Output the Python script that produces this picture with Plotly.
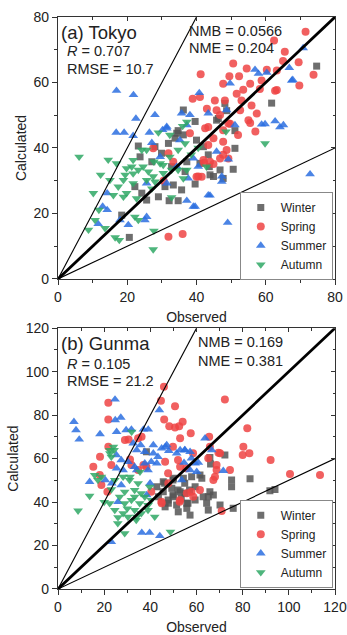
import plotly.graph_objects as go

# ---------------- data: (a) Tokyo ----------------
tokyo_winter_x = [74.7, 61.7, 48.7, 48.2, 46.3, 45.8, 39.6, 36.2, 51.1, 51.1, 23.2, 23.7, 34.3, 34.7, 36.2, 40.0, 42.0, 43.4, 43.7, 43.9, 46.8, 47.7, 50.6, 44.9, 37.2, 36.7, 33.3, 35.7, 39.6, 30.9, 29.0, 24.2, 34.7, 32.1, 25.6, 22.2, 18.4, 20.6, 32.8, 29.9, 28.0, 31.9, 33.8, 41.0, 27.1]
tokyo_winter_y = [65.0, 53.7, 51.4, 53.6, 49.0, 48.5, 48.1, 51.6, 45.3, 39.9, 40.6, 37.3, 44.5, 45.3, 44.0, 42.4, 40.4, 37.9, 34.3, 31.8, 33.3, 30.7, 33.5, 31.3, 35.8, 32.8, 28.7, 27.2, 29.0, 28.2, 25.1, 26.2, 23.9, 23.9, 24.1, 28.2, 19.5, 12.7, 34.3, 38.4, 40.4, 41.4, 43.0, 35.3, 35.8]

tokyo_spring_x = [71.5, 62.4, 65.5, 73.8, 69.5, 65.0, 69.7, 50.6, 41.2, 60.3, 63.2, 54.5, 47.7, 49.5, 52.3, 55.5, 58.8, 58.3, 62.7, 53.5, 51.6, 38.9, 41.0, 45.3, 48.2, 53.0, 55.9, 57.4, 52.6, 43.0, 45.8, 55.5, 49.7, 43.4, 47.7, 55.0, 63.2, 38.1, 42.5, 44.9, 47.7, 48.7, 42.0, 43.9, 40.0, 41.5, 27.5, 31.9, 33.3, 46.8, 49.2, 43.4, 46.8, 40.5, 44.9, 42.2, 47.7, 49.2, 31.9, 36.0, 30.5, 52.0, 57.0]
tokyo_spring_y = [75.5, 72.8, 69.4, 62.4, 66.2, 66.6, 59.1, 65.8, 62.5, 63.9, 63.7, 64.3, 59.6, 61.9, 61.9, 59.6, 60.6, 58.0, 57.5, 57.8, 56.6, 55.0, 55.6, 54.5, 54.5, 54.5, 53.0, 50.5, 51.5, 52.0, 51.5, 47.6, 47.4, 46.4, 45.4, 48.5, 57.7, 44.5, 46.0, 43.0, 41.9, 39.4, 36.3, 35.8, 31.2, 31.2, 39.9, 38.4, 35.8, 50.1, 47.5, 40.9, 36.8, 31.3, 35.1, 35.5, 37.9, 36.8, 12.9, 13.7, 30.0, 44.0, 45.0]

tokyo_summer_x = [70.8, 67.5, 56.9, 57.9, 66.8, 40.8, 58.8, 62.7, 65.1, 64.1, 16.9, 21.8, 22.5, 28.0, 16.8, 19.1, 21.7, 38.1, 43.4, 48.7, 49.7, 60.3, 67.8, 59.8, 31.4, 30.2, 27.1, 72.8, 43.9, 39.1, 37.2, 49.0, 25.6, 25.1, 20.3, 17.9, 12.9, 14.2, 14.2, 11.6, 47.3, 47.3, 25.6, 31.4, 34.3, 39.1, 26.4, 31.4, 29.5, 35.7, 37.2, 45.8, 49.2, 51.1, 40.5, 37.6, 43.4, 39.6, 35.2]
tokyo_summer_y = [70.5, 60.6, 63.9, 62.7, 64.5, 56.8, 47.2, 48.2, 47.0, 46.4, 57.5, 56.2, 49.0, 50.1, 44.7, 44.7, 43.7, 50.1, 50.6, 51.6, 59.7, 63.0, 60.8, 47.3, 46.5, 45.5, 41.6, 32.0, 25.5, 22.1, 23.9, 17.2, 19.0, 18.0, 16.5, 18.0, 22.1, 21.1, 26.2, 16.8, 31.3, 29.7, 29.2, 29.2, 34.3, 36.8, 44.7, 46.0, 37.3, 50.6, 47.0, 38.9, 36.5, 47.0, 34.3, 30.7, 25.6, 22.1, 42.4]

tokyo_autumn_x = [6.1, 14.5, 10.2, 12.3, 11.8, 10.7, 8.8, 13.6, 16.5, 17.7, 27.5, 27.7, 23.2, 22.2, 21.7, 21.3, 19.4, 27.5, 30.4, 32.8, 37.2, 36.2, 29.5, 27.7, 24.6, 16.9, 15.0, 17.4, 16.0, 18.9, 29.0, 36.0, 32.3, 25.6, 42.9, 36.7, 24.2, 21.7, 19.8, 18.9, 23.2, 26.1, 30.4, 32.3, 34.7, 25.6, 21.7, 28.0, 19.8, 22.7, 27.1, 32.8, 34.7, 37.2, 38.5, 40.5, 59.8, 48.5]
tokyo_autumn_y = [37.3, 36.4, 26.2, 31.8, 21.1, 18.0, 15.0, 15.5, 12.7, 11.9, 9.0, 14.7, 18.0, 19.0, 32.2, 34.3, 31.8, 31.3, 32.3, 33.3, 33.3, 30.7, 35.3, 35.8, 34.3, 35.3, 30.2, 28.2, 25.6, 25.1, 44.7, 46.7, 44.0, 39.4, 34.3, 41.4, 39.4, 36.3, 33.8, 30.2, 33.3, 32.8, 34.8, 37.3, 39.4, 30.2, 29.2, 29.7, 26.2, 24.6, 27.6, 24.9, 33.3, 48.0, 38.0, 40.0, 41.4, 45.0]

# ---------------- data: (b) Gunma ----------------
gunma_winter_x = [45.6, 50.0, 54.3, 57.9, 61.5, 45.6, 49.3, 52.9, 50.0, 47.8, 51.4, 55.8, 59.4, 62.9, 65.8, 64.4, 70.2, 65.1, 55.8, 57.2, 52.1, 72.3, 65.8, 46.4, 55.0, 59.4, 42.8, 43.5, 66.1, 75.2, 75.2, 83.2, 91.8, 94.0, 75.9, 65.1, 67.3, 62.3, 38.3, 47.7, 49.8, 52.0, 53.4, 56.3, 46.2, 49.8, 54.9, 57.0]
gunma_winter_y = [49.3, 50.9, 50.9, 51.6, 52.4, 44.7, 46.3, 44.7, 42.4, 39.4, 38.6, 39.4, 40.9, 42.4, 44.7, 39.4, 38.6, 36.3, 37.1, 34.0, 35.5, 61.6, 60.5, 37.8, 44.0, 47.0, 47.0, 42.4, 57.5, 50.1, 47.0, 50.7, 45.2, 45.8, 37.1, 42.4, 43.2, 50.9, 63.1, 40.9, 43.2, 45.5, 41.7, 39.4, 48.6, 50.1, 48.6, 45.5]

gunma_spring_x = [45.9, 21.8, 44.6, 72.3, 50.7, 21.8, 46.0, 48.2, 50.7, 54.0, 52.5, 52.9, 57.5, 65.5, 82.0, 80.3, 80.0, 82.9, 92.1, 70.2, 65.8, 65.1, 29.0, 36.2, 21.8, 18.2, 15.3, 30.6, 34.7, 49.8, 52.0, 58.5, 23.1, 34.7, 18.1, 18.8, 21.4, 40.4, 44.8, 52.7, 55.6, 57.8, 47.7, 38.3, 31.8, 100.5, 113.5, 86.8, 70.9, 69.5, 74.5, 68.7, 68.0, 67.3, 46.4, 31.2, 37.0, 52.9, 68.7, 44.9, 52.9, 55.8, 58.6, 61.5, 47.8]
gunma_spring_y = [93.0, 85.7, 86.6, 87.2, 84.1, 78.0, 78.0, 74.9, 74.3, 76.9, 74.9, 69.3, 71.6, 70.0, 73.9, 65.4, 61.6, 62.4, 59.3, 62.4, 65.4, 60.1, 68.5, 70.0, 65.4, 60.8, 56.2, 68.8, 69.3, 65.4, 59.3, 62.4, 57.0, 54.7, 52.4, 47.8, 44.7, 44.7, 40.1, 40.1, 55.5, 44.7, 53.2, 56.2, 57.0, 52.9, 52.4, 37.1, 35.9, 62.7, 54.7, 54.7, 51.6, 50.1, 58.5, 59.6, 57.0, 56.2, 57.0, 39.4, 40.9, 44.0, 42.4, 45.5, 48.6]

gunma_summer_x = [24.7, 43.9, 24.8, 27.2, 6.9, 7.8, 9.2, 18.2, 29.5, 31.8, 25.4, 37.0, 39.1, 41.3, 47.1, 63.7, 32.6, 34.1, 41.3, 44.9, 52.9, 57.2, 35.8, 37.6, 43.3, 46.5, 48.0, 54.9, 57.8, 25.3, 27.4, 30.3, 28.2, 20.5, 33.2, 37.6, 40.4, 39.0, 13.7, 23.1, 39.7, 44.1, 27.4, 26.0, 66.6, 71.6, 55.0, 54.6, 60.8, 60.1, 36.3, 39.9, 38.4, 53.6, 57.2, 59.4, 51.4, 42.8, 34.1, 25.4, 23.3]
gunma_summer_y = [87.2, 82.3, 77.7, 78.9, 76.9, 73.1, 68.8, 71.3, 73.1, 73.4, 72.3, 73.4, 73.4, 66.2, 66.2, 69.3, 67.0, 63.9, 62.4, 64.7, 63.9, 63.1, 66.2, 63.1, 60.8, 65.4, 63.6, 63.9, 60.1, 61.6, 59.3, 58.5, 54.7, 50.1, 56.2, 57.8, 58.5, 54.7, 49.3, 21.7, 25.9, 24.4, 47.8, 40.1, 63.9, 54.4, 63.9, 58.1, 58.1, 53.9, 25.9, 48.6, 43.2, 50.1, 54.7, 57.8, 62.4, 57.8, 54.7, 55.5, 48.6]

gunma_autumn_x = [31.9, 24.0, 22.5, 22.4, 24.3, 23.1, 15.9, 18.8, 17.3, 13.7, 8.7, 23.1, 48.7, 28.9, 25.9, 30.3, 33.9, 36.1, 39.0, 41.9, 24.6, 22.4, 28.9, 31.8, 35.4, 37.6, 26.7, 28.9, 33.2, 34.7, 39.7, 24.6, 28.2, 31.0, 39.0, 33.2, 28.2, 40.4, 33.2, 34.1, 35.5, 31.2, 20.0, 30.0, 36.0, 26.0]
gunma_autumn_y = [72.3, 65.4, 62.4, 63.9, 63.9, 60.8, 52.4, 51.6, 50.1, 42.8, 36.0, 45.8, 26.3, 25.6, 30.2, 33.2, 31.7, 34.8, 36.3, 33.2, 36.3, 39.4, 39.4, 40.9, 39.4, 42.4, 42.4, 44.7, 45.5, 48.6, 47.0, 50.1, 51.6, 50.1, 38.6, 36.3, 34.8, 40.9, 42.4, 33.2, 53.9, 51.6, 40.0, 37.0, 44.0, 33.0]

seasons = ["Winter", "Spring", "Summer", "Autumn"]
colors = {"Winter": "#555555", "Spring": "#ef4444", "Summer": "#2c6fe0", "Autumn": "#2fa865"}
symbols = {"Winter": "square", "Spring": "circle", "Summer": "triangle-up", "Autumn": "triangle-down"}
sizes = {"Winter": 7, "Spring": 8, "Summer": 8.5, "Autumn": 8.5}

tokyo = {"Winter": (tokyo_winter_x, tokyo_winter_y), "Spring": (tokyo_spring_x, tokyo_spring_y),
         "Summer": (tokyo_summer_x, tokyo_summer_y), "Autumn": (tokyo_autumn_x, tokyo_autumn_y)}
gunma = {"Winter": (gunma_winter_x, gunma_winter_y), "Spring": (gunma_spring_x, gunma_spring_y),
         "Summer": (gunma_summer_x, gunma_summer_y), "Autumn": (gunma_autumn_x, gunma_autumn_y)}

tokyo_max = 80
gunma_max = 120

fig = go.Figure()

for data, xa, ya, lg in [(tokyo, "x", "y", "legend"), (gunma, "x2", "y2", "legend2")]:
    for s in seasons:
        xs, ys = data[s]
        fig.add_trace(go.Scatter(
            x=xs, y=ys, mode="markers", name=s, xaxis=xa, yaxis=ya, legend=lg,
            marker=dict(symbol=symbols[s], color=colors[s], size=sizes[s], opacity=0.85,
                        line=dict(width=0))))

# reference lines 1:1, 2:1, 1:2
for mx, xa, ya in [(tokyo_max, "x", "y"), (gunma_max, "x2", "y2")]:
    fig.add_trace(go.Scatter(x=[0, mx], y=[0, mx], mode="lines", xaxis=xa, yaxis=ya,
                             line=dict(color="black", width=2.8), showlegend=False, hoverinfo="skip"))
    fig.add_trace(go.Scatter(x=[0, mx / 2], y=[0, mx], mode="lines", xaxis=xa, yaxis=ya,
                             line=dict(color="black", width=1.1), showlegend=False, hoverinfo="skip"))
    fig.add_trace(go.Scatter(x=[0, mx], y=[0, mx / 2], mode="lines", xaxis=xa, yaxis=ya,
                             line=dict(color="black", width=1.1), showlegend=False, hoverinfo="skip"))

# invisible traces to host the mirrored (inside-tick) axes
fig.add_trace(go.Scatter(x=[None], y=[None], xaxis="x3", yaxis="y3", showlegend=False))
fig.add_trace(go.Scatter(x=[None], y=[None], xaxis="x4", yaxis="y4", showlegend=False))

font_family = "Liberation Sans, Arial, sans-serif"
tickfont = dict(family=font_family, size=14, color="#222")

def main_axis(rng, anchor, domain, title, standoff):
    return dict(range=rng, domain=domain, anchor=anchor, dtick=20, tick0=0,
                showline=True, linecolor="#333", linewidth=1.3, mirror=True,
                ticks="outside", ticklen=5, tickwidth=1.2, tickcolor="#333",
                minor=dict(dtick=10, ticks="outside", ticklen=3, tickwidth=1, tickcolor="#333"),
                showgrid=False, zeroline=False, tickfont=tickfont, automargin=False,
                title=dict(text=title, font=dict(family=font_family, size=14, color="#222"), standoff=standoff),
                fixedrange=True)

def mirror_axis(rng, overlay, anchor, side):
    return dict(range=rng, overlaying=overlay, anchor=anchor, side=side, dtick=20, tick0=0,
                ticks="inside", ticklen=4, tickwidth=1.1, tickcolor="#333",
                minor=dict(dtick=10, ticks="inside", ticklen=2.5, tickwidth=1, tickcolor="#333"),
                showticklabels=False, showgrid=False, zeroline=False, showline=False,
                automargin=False, fixedrange=True)

top_dom = [0.542, 1.0]
bot_dom = [0.0, 0.456]

legend_style = dict(bgcolor="white", bordercolor="#888", borderwidth=1,
                    font=dict(family=font_family, size=12, color="#222"),
                    xanchor="right", yanchor="bottom", itemwidth=30, tracegroupgap=0)

fig.update_layout(
    width=347, height=635,
    margin=dict(l=58, r=12, t=17, b=46, autoexpand=False),
    plot_bgcolor="white", paper_bgcolor="white",
    font=dict(family=font_family, color="#222"),
    xaxis=main_axis([0, tokyo_max], "y", [0, 1], "Observed", 8),
    yaxis=main_axis([0, tokyo_max], "x", top_dom, "Calculated", 3),
    xaxis2=main_axis([0, gunma_max], "y2", [0, 1], "Observed", 8),
    yaxis2=main_axis([0, gunma_max], "x2", bot_dom, "Calculated", 3),
    xaxis3=mirror_axis([0, tokyo_max], "x", "y", "top"),
    yaxis3=mirror_axis([0, tokyo_max], "y", "x", "right"),
    xaxis4=mirror_axis([0, gunma_max], "x2", "y2", "top"),
    yaxis4=mirror_axis([0, gunma_max], "y2", "x2", "right"),
    legend=dict(x=0.992, y=0.54, **legend_style),
    legend2=dict(x=0.992, y=0.002, **legend_style),
)

def add_text(xref, yref, x, y, text, size):
    fig.add_annotation(xref=xref, yref=yref, x=x, y=y, text=text, showarrow=False,
                       xanchor="left", yanchor="middle",
                       font=dict(family=font_family, size=size, color="#222"))

add_text("x domain", "y domain", 0.005, 0.939, "(a) Tokyo", 18.5)
add_text("x domain", "y domain", 0.025, 0.870, "<i>R</i> = 0.707", 14.5)
add_text("x domain", "y domain", 0.025, 0.802, "RMSE = 10.7", 14.5)
add_text("x domain", "y domain", 0.465, 0.947, "NMB = 0.0566", 14.5)
add_text("x domain", "y domain", 0.465, 0.882, "NME = 0.204", 14.5)

add_text("x2 domain", "y2 domain", 0.005, 0.943, "(b) Gunma", 18.5)
add_text("x2 domain", "y2 domain", 0.025, 0.862, "<i>R</i> = 0.105", 14.5)
add_text("x2 domain", "y2 domain", 0.025, 0.797, "RMSE = 21.2", 14.5)
add_text("x2 domain", "y2 domain", 0.498, 0.946, "NMB = 0.169", 14.5)
add_text("x2 domain", "y2 domain", 0.498, 0.874, "NME = 0.381", 14.5)

fig.write_html("out.html", config={"displayModeBar": False},
               post_script="document.body.style.margin='0px';")
